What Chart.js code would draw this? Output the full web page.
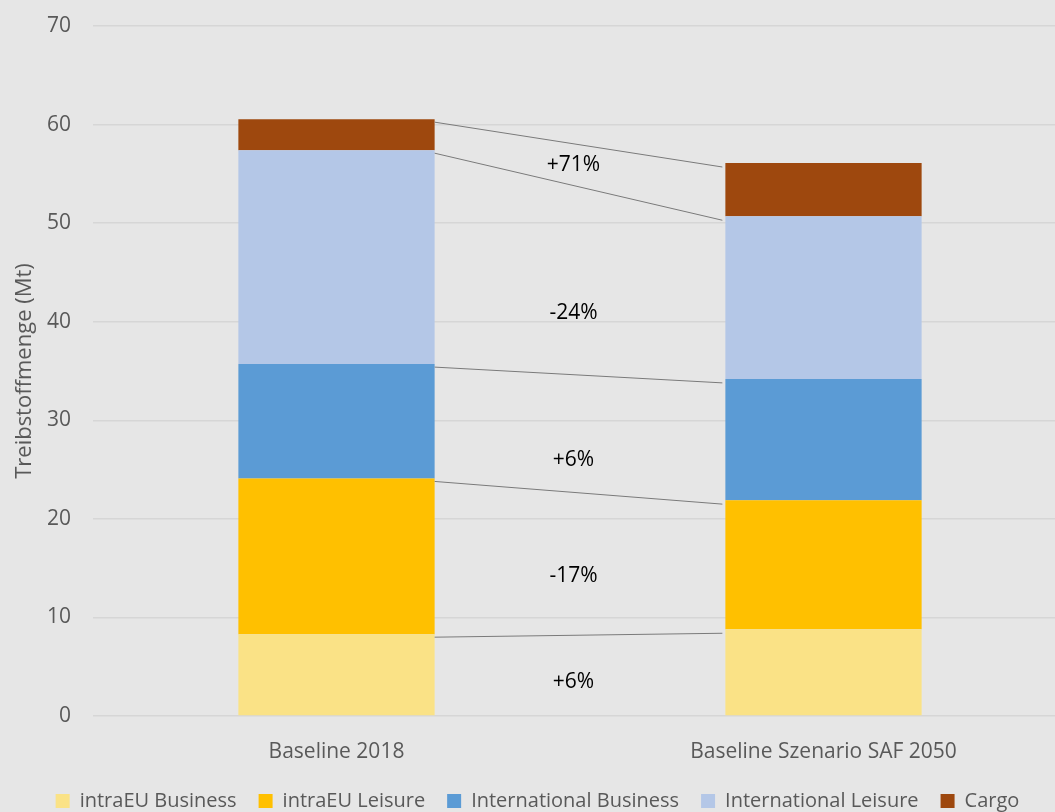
<!DOCTYPE html>
<html lang="de">
<head>
    <meta charset="UTF-8">
    <title>Treibstoffmenge Baseline</title>
    <style>
        body {
            margin: 0;
            background-color: #e6e6e6;
            overflow: hidden;
        }
        .chart-wrap {
            width: 1070px;
            height: 812px;
        }
    </style>
</head>
<body>
    <div class="chart-wrap">
        <canvas id="fuel-chart"></canvas>
    </div>

    <script src="https://cdn.jsdelivr.net/npm/chart.js"></script>
    <script>
        // Szenarien (x-Achse)
        const scenarios = ['Baseline 2018', 'Baseline Szenario SAF 2050'];

        // Treibstoffmenge je Segment in Mt: [2018, 2050]
        const intraEuBusiness = [8.3, 8.8];
        const intraEuLeisure = [15.8, 13.1];
        const intlBusiness = [11.6, 12.3];
        const intlLeisure = [21.7, 16.5];
        const cargo = [3.15, 5.4];

        const segmentNames = ['intraEU Business', 'intraEU Leisure', 'International Business', 'International Leisure', 'Cargo'];
        const segmentColors = ['#fae286', '#ffc000', '#5b9bd5', '#b4c7e7', '#9e480e'];

        // Höhe (Mt), auf der die Veränderung zwischen den Säulen steht
        const changeAt = [3.45, 14.2, 26.0, 40.9, 55.9];

        const yTicks = [0, 10, 20, 30, 40, 50, 60, 70];

        const series = [intraEuBusiness, intraEuLeisure, intlBusiness, intlLeisure, cargo];

        function changeText(vals) {
            const pct = Math.round((vals[1] / vals[0] - 1) * 100);
            return (pct > 0 ? '+' : '') + pct + '%';
        }

        // Verbindungslinien und Prozentangaben zwischen den beiden Säulen
        const connectorPlugin = {
            id: 'connectors',
            afterDatasetsDraw(chart) {
                const ctx = chart.ctx;
                const yScale = chart.scales.y;
                ctx.save();
                ctx.strokeStyle = '#7a7a7a';
                ctx.lineWidth = 1;
                let midX = 0;
                series.forEach((vals, i) => {
                    const bars = chart.getDatasetMeta(i).data;
                    const x0 = bars[0].x + bars[0].width / 2;
                    const x1 = bars[1].x - bars[1].width / 2 - 3;
                    midX = (x0 + x1) / 2;
                    ctx.beginPath();
                    ctx.moveTo(x0, bars[0].y + 3);
                    ctx.lineTo(x1, bars[1].y + 4);
                    ctx.stroke();
                });
                ctx.fillStyle = '#000000';
                ctx.font = '21px "Open Sans"';
                ctx.textAlign = 'center';
                ctx.textBaseline = 'middle';
                series.forEach((vals, i) => {
                    ctx.fillText(changeText(vals), midX - 5, yScale.getPixelForValue(changeAt[i]));
                });
                ctx.restore();
            }
        };

        const ctxBar = document.getElementById('fuel-chart').getContext('2d');
        new Chart(ctxBar, {
            type: 'bar',
            data: {
                labels: scenarios,
                datasets: series.map((vals, i) => ({
                    label: segmentNames[i],
                    data: vals,
                    backgroundColor: segmentColors[i],
                    borderWidth: 0,
                    categoryPercentage: 1,
                    barPercentage: 0.403
                }))
            },
            options: {
                responsive: true,
                maintainAspectRatio: false,
                animation: false,
                layout: {
                    padding: { left: 8, right: 3, top: 26, bottom: -9 }
                },
                plugins: {
                    legend: {
                        position: 'bottom',
                        labels: {
                            boxWidth: 14,
                            boxHeight: 14,
                            padding: 22,
                            color: '#595959',
                            font: { family: 'Open Sans', size: 20 }
                        }
                    },
                    tooltip: { enabled: false }
                },
                scales: {
                    x: {
                        stacked: true,
                        grid: { display: false, drawTicks: false },
                        border: { display: false },
                        afterFit(scale) {
                            scale.height = 53;
                        },
                        ticks: {
                            color: '#595959',
                            padding: 23,
                            font: { family: 'Open Sans', size: 21 }
                        }
                    },
                    y: {
                        stacked: true,
                        min: 0,
                        max: 70,
                        afterBuildTicks(scale) {
                            scale.ticks = yTicks.map(v => ({ value: v }));
                        },
                        afterFit(scale) {
                            scale.width = 85;
                            scale.paddingTop = 0;
                            scale.paddingBottom = 0;
                        },
                        grid: { color: '#d6d6d6', lineWidth: 1.5, drawTicks: false },
                        border: { display: false },
                        ticks: {
                            color: '#595959',
                            padding: 22,
                            font: { family: 'Open Sans', size: 21 }
                        },
                        title: {
                            display: true,
                            text: 'Treibstoffmenge (Mt)',
                            color: '#595959',
                            font: { family: 'Open Sans', size: 22 }
                        }
                    }
                }
            },
            plugins: [connectorPlugin]
        });
    </script>
</body>
</html>
